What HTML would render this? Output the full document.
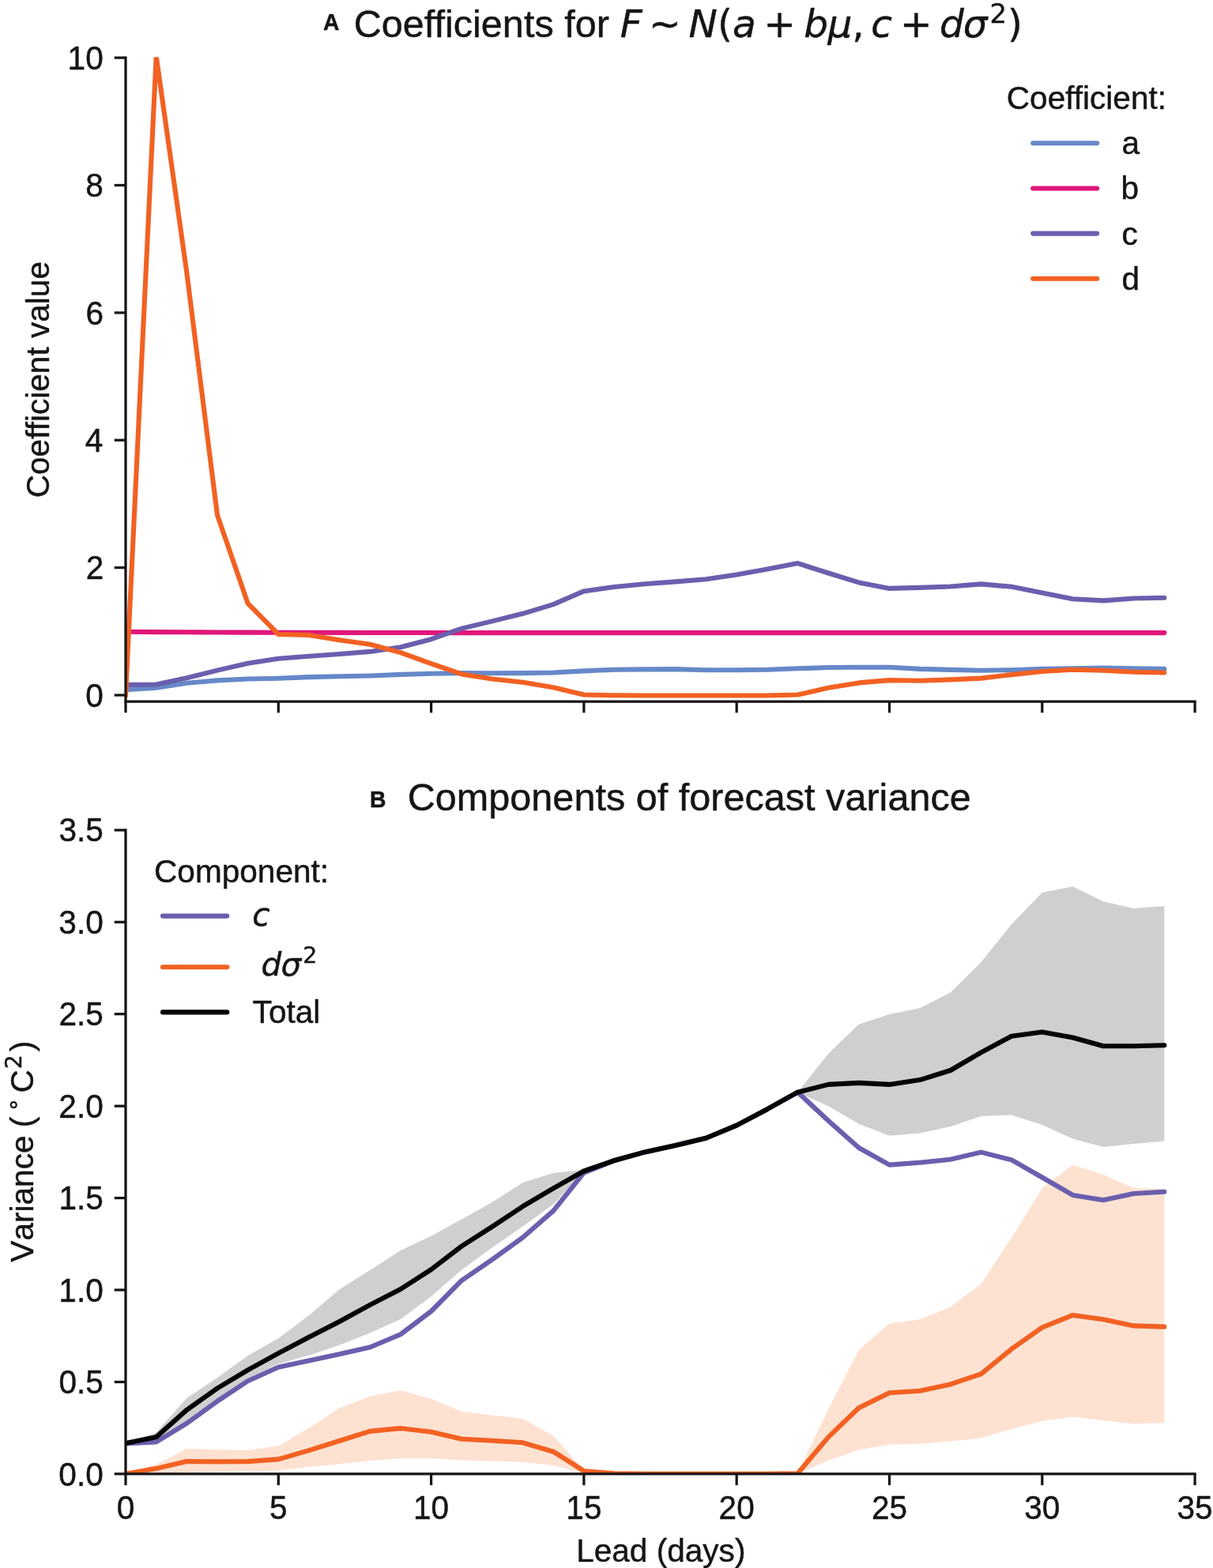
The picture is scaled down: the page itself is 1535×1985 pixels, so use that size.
<!DOCTYPE html>
<html lang="en"><head><meta charset="utf-8"><title>Forecast coefficients and variance components</title>
<style>
html,body{margin:0;padding:0;background:#fff;overflow:hidden;}
svg{display:block;width:1535px;height:1985px;}
text{font-family:"Liberation Sans",sans-serif;fill:#151515;stroke:#151515;stroke-width:0.45px;stroke-linejoin:round;}
.m{font-family:"DejaVu Sans",sans-serif;font-style:italic;}
.r{font-family:"DejaVu Sans",sans-serif;font-style:normal;}
.p{font-weight:bold;}
.ln{fill:none;stroke-width:6.1;stroke-linecap:round;stroke-linejoin:round;}
.ax{fill:none;stroke:#151515;stroke-width:3.25;stroke-linecap:butt;}
</style></head><body>
<svg width="1535" height="1985" viewBox="0 0 1535 1985">
<rect width="1535" height="1985" fill="#fff"/>
<defs><clipPath id="ca"><rect x="159.0" y="72.2" width="1370" height="812.3"/></clipPath>
<clipPath id="cb"><rect x="159.0" y="1040" width="1370" height="825.9"/></clipPath></defs>
<g id="panel-a">
<g clip-path="url(#ca)">
<polyline class="ln" stroke="#6688c8" points="159.0,873.2 197.7,870.7 236.3,864.7 275.0,861.4 313.6,859.5 352.3,858.7 391.0,857.1 429.6,856.3 468.3,855.5 506.9,853.9 545.6,852.7 584.3,852.1 622.9,852.3 661.6,852.1 700.2,851.5 738.9,849.4 777.6,847.7 816.2,847.4 854.9,847.1 893.5,848.2 932.2,848.2 970.9,847.8 1009.5,846.3 1048.2,845.0 1086.8,844.8 1125.5,844.8 1164.2,846.9 1202.8,847.9 1241.5,848.7 1280.1,848.2 1318.8,846.9 1357.5,846.3 1396.1,845.6 1434.8,846.3 1473.4,846.9"/>
<polyline class="ln" stroke="#e0177b" points="159.0,799.8 197.7,800.1 236.3,800.3 275.0,800.5 313.6,800.6 352.3,800.8 391.0,800.8 429.6,800.9 468.3,801.0 506.9,801.0 545.6,801.0 584.3,801.1 622.9,801.1 661.6,801.1 700.2,801.1 738.9,801.1 777.6,801.1 816.2,801.1 854.9,801.1 893.5,801.1 932.2,801.1 970.9,801.1 1009.5,801.1 1048.2,801.1 1086.8,801.1 1125.5,801.1 1164.2,801.1 1202.8,801.1 1241.5,801.1 1280.1,801.1 1318.8,801.1 1357.5,801.1 1396.1,801.1 1434.8,801.1 1473.4,801.1"/>
<polyline class="ln" stroke="#6a5fae" points="159.0,866.9 197.7,866.5 236.3,858.3 275.0,848.6 313.6,839.8 352.3,833.7 391.0,830.8 429.6,828.0 468.3,824.9 506.9,819.3 545.6,809.2 584.3,795.6 622.9,786.4 661.6,776.8 700.2,765.1 738.9,748.4 777.6,743.0 816.2,739.3 854.9,736.4 893.5,733.2 932.2,727.6 970.9,720.5 1009.5,713.1 1048.2,725.5 1086.8,737.4 1125.5,744.9 1164.2,743.9 1202.8,742.5 1241.5,739.4 1280.1,742.8 1318.8,750.4 1357.5,758.2 1396.1,760.4 1434.8,757.5 1473.4,756.7"/>
<polyline class="ln" stroke="#f26122" points="159.0,880.5 197.7,71.2 236.3,344.7 275.0,652.1 313.6,763.8 352.3,803.0 391.0,803.9 429.6,810.3 468.3,815.7 506.9,826.1 545.6,840.2 584.3,853.4 622.9,859.5 661.6,863.8 700.2,870.3 738.9,879.5 777.6,880.3 816.2,880.5 854.9,880.5 893.5,880.5 932.2,880.5 970.9,880.5 1009.5,879.5 1048.2,870.8 1086.8,864.4 1125.5,861.1 1164.2,861.7 1202.8,860.4 1241.5,858.6 1280.1,854.1 1318.8,850.0 1357.5,847.7 1396.1,848.7 1434.8,850.8 1473.4,851.5"/>
</g>
<path class="ax" d="M159.0,71.5V902.3"/>
<path class="ax" d="M157.4,888.0H1513.7"/>
<path class="ax" d="M352.3,888.0v14.3"/>
<path class="ax" d="M545.6,888.0v14.3"/>
<path class="ax" d="M738.9,888.0v14.3"/>
<path class="ax" d="M932.2,888.0v14.3"/>
<path class="ax" d="M1125.5,888.0v14.3"/>
<path class="ax" d="M1318.8,888.0v14.3"/>
<path class="ax" d="M1512.1,888.0v14.3"/>
<path class="ax" d="M159.0,880.0h-14.3"/>
<text transform="translate(130.79 894.64) scale(1 1.045)" style="font-size:40.6px" text-anchor="end">0</text>
<path class="ax" d="M159.0,718.6h-14.3"/>
<text transform="translate(131.29 733.26) scale(1 1.045)" style="font-size:40.6px" text-anchor="end">2</text>
<path class="ax" d="M159.0,557.2h-14.3"/>
<text transform="translate(130.42 571.88) scale(1 1.045)" style="font-size:40.6px" text-anchor="end">4</text>
<path class="ax" d="M159.0,395.9h-14.3"/>
<text transform="translate(131.04 410.50) scale(1 1.045)" style="font-size:40.6px" text-anchor="end">6</text>
<path class="ax" d="M159.0,234.5h-14.3"/>
<text transform="translate(130.92 249.12) scale(1 1.045)" style="font-size:40.6px" text-anchor="end">8</text>
<path class="ax" d="M159.0,73.1h-14.3"/>
<text transform="translate(130.76 87.74) scale(1 1.045)" style="font-size:40.6px" text-anchor="end">10</text>
<g transform="translate(61.8,628.2) rotate(-90)">
<text x="-2.12" y="0.00" style="font-size:40.6px">Coefficient value</text>
</g>
</g>
<g id="title-a">
<text class="p" transform="translate(409.05 38.40) scale(1 1.045)" style="font-size:28.4px">A</text>
<text x="447.70" y="47.30" style="font-size:48.6px">Coefficients for</text>
<text class="m" x="784.83" y="47.30" style="font-size:48.6px">F</text>
<text class="r" x="820.88" y="47.30" style="font-size:48.6px">∼</text>
<text class="m" x="871.62" y="47.30" style="font-size:48.6px">N</text>
<text class="r" x="907.88" y="47.30" style="font-size:48.6px">(</text>
<text class="m" x="927.00" y="47.30" style="font-size:48.6px">a</text>
<text class="r" x="966.17" y="47.30" style="font-size:48.6px">+</text>
<text class="m" x="1017.15" y="47.30" style="font-size:48.6px">b</text>
<text class="m" x="1047.42" y="47.30" style="font-size:48.6px">μ</text>
<text class="r" x="1078.25" y="47.30" style="font-size:48.6px">,</text>
<text class="m" x="1102.35" y="47.30" style="font-size:48.6px">c</text>
<text class="r" x="1139.08" y="47.30" style="font-size:48.6px">+</text>
<text class="m" x="1188.95" y="47.30" style="font-size:48.6px">d</text>
<text class="m" x="1218.83" y="47.30" style="font-size:48.6px">σ</text>
<text class="r" x="1252.50" y="28.50" style="font-size:34.019999999999996px">2</text>
<text class="r" x="1275.12" y="47.30" style="font-size:48.6px">)</text>
</g>
<g id="legend-a">
<text x="1273.78" y="137.70" style="font-size:40.6px">Coefficient:</text>
<path class="ln" stroke="#6688c8" d="M1307.2,181.3H1388.2"/>
<text x="1419.45" y="195.20" style="font-size:40.6px">a</text>
<path class="ln" stroke="#e0177b" d="M1307.2,238.5H1388.2"/>
<text x="1418.58" y="252.35" style="font-size:40.6px">b</text>
<path class="ln" stroke="#6a5fae" d="M1307.2,295.6H1388.2"/>
<text x="1419.45" y="309.50" style="font-size:40.6px">c</text>
<path class="ln" stroke="#f26122" d="M1307.2,352.8H1388.2"/>
<text x="1419.45" y="366.65" style="font-size:40.6px">d</text>
</g>
<g id="panel-b">
<g clip-path="url(#cb)">
<polygon fill="#cfcfcf" points="159.0,1827.0 197.7,1813.6 236.3,1769.9 275.0,1743.9 313.6,1716.2 352.3,1694.3 391.0,1665.2 429.6,1632.3 468.3,1607.9 506.9,1583.0 545.6,1564.8 584.3,1543.6 622.9,1522.0 661.6,1496.9 700.2,1484.9 738.9,1480.7 777.6,1469.0 816.2,1458.4 854.9,1450.0 893.5,1440.7 932.2,1424.6 970.9,1404.2 1009.5,1382.7 1048.2,1333.8 1086.8,1296.8 1125.5,1284.0 1164.2,1276.2 1202.8,1256.4 1241.5,1218.1 1280.1,1170.1 1318.8,1130.0 1357.5,1122.3 1396.1,1141.2 1434.8,1150.1 1473.4,1147.0 1473.4,1444.5 1434.8,1448.1 1396.1,1452.0 1357.5,1441.6 1318.8,1424.0 1280.1,1411.5 1241.5,1413.1 1202.8,1426.2 1164.2,1434.5 1125.5,1437.8 1086.8,1422.7 1048.2,1400.2 1009.5,1382.7 970.9,1404.2 932.2,1424.6 893.5,1440.7 854.9,1450.0 816.2,1458.4 777.6,1469.0 738.9,1484.0 700.2,1524.5 661.6,1552.6 622.9,1579.2 584.3,1607.6 545.6,1641.2 506.9,1670.0 468.3,1687.5 429.6,1702.7 391.0,1715.7 352.3,1726.6 313.6,1745.0 275.0,1771.1 236.3,1799.5 197.7,1824.4 159.0,1827.0"/>
<polygon fill="#fde2d2" points="159.0,1865.9 197.7,1853.9 236.3,1833.8 275.0,1835.3 313.6,1835.7 352.3,1830.5 391.0,1807.7 429.6,1782.5 468.3,1767.5 506.9,1760.2 545.6,1770.7 584.3,1787.0 622.9,1791.5 661.6,1796.1 700.2,1817.6 738.9,1861.7 777.6,1865.2 816.2,1865.9 854.9,1865.9 893.5,1865.9 932.2,1865.9 970.9,1865.9 1009.5,1864.7 1048.2,1784.2 1086.8,1709.0 1125.5,1675.4 1164.2,1670.3 1202.8,1654.5 1241.5,1625.6 1280.1,1566.9 1318.8,1504.1 1357.5,1474.8 1396.1,1487.1 1434.8,1504.1 1473.4,1505.1 1473.4,1801.6 1434.8,1802.4 1396.1,1798.2 1357.5,1793.8 1318.8,1799.1 1280.1,1809.1 1241.5,1820.4 1202.8,1824.7 1164.2,1827.8 1125.5,1828.8 1086.8,1835.6 1048.2,1848.7 1009.5,1865.9 970.9,1865.9 932.2,1865.9 893.5,1865.9 854.9,1865.9 816.2,1865.9 777.6,1865.9 738.9,1865.2 700.2,1855.1 661.6,1850.9 622.9,1849.7 584.3,1848.8 545.6,1846.3 506.9,1846.3 468.3,1849.2 429.6,1853.5 391.0,1857.1 352.3,1861.5 313.6,1862.6 275.0,1863.3 236.3,1864.0 197.7,1865.9 159.0,1865.9"/>
<polyline class="ln" stroke="#6a5fae" points="159.0,1827.5 197.7,1825.5 236.3,1801.9 275.0,1773.9 313.6,1748.3 352.3,1730.8 391.0,1722.5 429.6,1714.3 468.3,1705.5 506.9,1689.2 545.6,1660.0 584.3,1620.9 622.9,1594.5 661.6,1566.5 700.2,1532.9 738.9,1484.7 777.6,1469.2 816.2,1458.4 854.9,1450.0 893.5,1440.7 932.2,1424.6 970.9,1404.2 1009.5,1382.7 1048.2,1418.7 1086.8,1453.0 1125.5,1474.6 1164.2,1471.7 1202.8,1467.7 1241.5,1458.6 1280.1,1468.4 1318.8,1490.5 1357.5,1512.9 1396.1,1519.2 1434.8,1511.0 1473.4,1508.7"/>
<polyline class="ln" stroke="#f26122" points="159.0,1865.9 197.7,1859.1 236.3,1850.0 275.0,1850.4 313.6,1850.1 352.3,1847.4 391.0,1836.1 429.6,1824.0 468.3,1811.9 506.9,1808.1 545.6,1812.8 584.3,1821.7 622.9,1823.8 661.6,1826.3 700.2,1837.7 738.9,1862.2 777.6,1865.4 816.2,1865.9 854.9,1865.9 893.5,1865.9 932.2,1865.9 970.9,1865.9 1009.5,1865.2 1048.2,1819.4 1086.8,1782.3 1125.5,1763.3 1164.2,1760.8 1202.8,1752.4 1241.5,1739.3 1280.1,1707.8 1318.8,1680.5 1357.5,1664.9 1396.1,1670.3 1434.8,1678.4 1473.4,1679.6"/>
<polyline class="ln" stroke="#050505" points="159.0,1827.0 197.7,1819.2 236.3,1784.9 275.0,1757.5 313.6,1734.3 352.3,1713.1 391.0,1692.8 429.6,1673.0 468.3,1651.9 506.9,1632.0 545.6,1607.1 584.3,1577.5 622.9,1552.9 661.6,1527.2 700.2,1504.3 738.9,1482.5 777.6,1469.0 816.2,1458.4 854.9,1450.0 893.5,1440.7 932.2,1424.6 970.9,1404.2 1009.5,1382.7 1048.2,1372.9 1086.8,1370.9 1125.5,1372.9 1164.2,1367.1 1202.8,1355.0 1241.5,1332.4 1280.1,1311.7 1318.8,1306.5 1357.5,1313.5 1396.1,1324.2 1434.8,1324.2 1473.4,1323.3"/>
</g>
<path class="ax" d="M159.0,1049.2V1880.2"/>
<path class="ax" d="M144.7,1865.9H1513.7"/>
<path class="ax" d="M352.3,1865.9v14.3"/>
<path class="ax" d="M545.6,1865.9v14.3"/>
<path class="ax" d="M738.9,1865.9v14.3"/>
<path class="ax" d="M932.2,1865.9v14.3"/>
<path class="ax" d="M1125.5,1865.9v14.3"/>
<path class="ax" d="M1318.8,1865.9v14.3"/>
<path class="ax" d="M1512.1,1865.9v14.3"/>
<text transform="translate(159.00 1922.90) scale(1 1.045)" style="font-size:40.6px" text-anchor="middle">0</text>
<text transform="translate(352.30 1922.90) scale(1 1.045)" style="font-size:40.6px" text-anchor="middle">5</text>
<text transform="translate(545.60 1922.90) scale(1 1.045)" style="font-size:40.6px" text-anchor="middle">10</text>
<text transform="translate(738.90 1922.90) scale(1 1.045)" style="font-size:40.6px" text-anchor="middle">15</text>
<text transform="translate(932.20 1922.90) scale(1 1.045)" style="font-size:40.6px" text-anchor="middle">20</text>
<text transform="translate(1125.50 1922.90) scale(1 1.045)" style="font-size:40.6px" text-anchor="middle">25</text>
<text transform="translate(1318.80 1922.90) scale(1 1.045)" style="font-size:40.6px" text-anchor="middle">30</text>
<text transform="translate(1512.10 1922.90) scale(1 1.045)" style="font-size:40.6px" text-anchor="middle">35</text>
<path class="ax" d="M159.0,1749.5h-14.3"/>
<path class="ax" d="M159.0,1633.0h-14.3"/>
<path class="ax" d="M159.0,1516.6h-14.3"/>
<path class="ax" d="M159.0,1400.2h-14.3"/>
<path class="ax" d="M159.0,1283.7h-14.3"/>
<path class="ax" d="M159.0,1167.3h-14.3"/>
<path class="ax" d="M159.0,1050.9h-14.3"/>
<text transform="translate(130.80 1880.54) scale(1 1.045)" style="font-size:40.6px" text-anchor="end">0.0</text>
<text transform="translate(130.92 1764.10) scale(1 1.045)" style="font-size:40.6px" text-anchor="end">0.5</text>
<text transform="translate(130.80 1647.67) scale(1 1.045)" style="font-size:40.6px" text-anchor="end">1.0</text>
<text transform="translate(130.92 1531.23) scale(1 1.045)" style="font-size:40.6px" text-anchor="end">1.5</text>
<text transform="translate(130.80 1414.80) scale(1 1.045)" style="font-size:40.6px" text-anchor="end">2.0</text>
<text transform="translate(130.92 1298.36) scale(1 1.045)" style="font-size:40.6px" text-anchor="end">2.5</text>
<text transform="translate(130.80 1181.93) scale(1 1.045)" style="font-size:40.6px" text-anchor="end">3.0</text>
<text transform="translate(130.92 1065.49) scale(1 1.045)" style="font-size:40.6px" text-anchor="end">3.5</text>
<text x="836.30" y="1977.00" style="font-size:40.6px" text-anchor="middle">Lead (days)</text>
<g transform="translate(42.4,1597.7) rotate(-90)" style="font-kerning:none">
<text x="0.05" y="0.00" style="font-size:40.6px">Variance</text>
<text x="170.40" y="0.00" style="font-size:40.6px">(</text>
<text class="r" x="190.30" y="-16.00" style="font-size:28.419999999999998px">∘</text>
<text x="214.18" y="0.00" style="font-size:40.6px">C</text>
<text class="r" x="244.57" y="-15.40" style="font-size:28.419999999999998px">2</text>
<text x="266.35" y="0.00" style="font-size:40.6px">)</text>
</g>
</g>
<g id="title-b">
<text class="p" transform="translate(467.93 1021.70) scale(1 1.045)" style="font-size:28.4px">B</text>
<text x="515.70" y="1026.00" style="font-size:48.6px">Components of forecast variance</text>
</g>
<g id="legend-b">
<text x="195.07" y="1116.70" style="font-size:40.6px">Component:</text>
<path class="ln" stroke="#6a5fae" d="M206,1159.6H287.3"/>
<path class="ln" stroke="#f26122" d="M206,1224.3H287.3"/>
<path class="ln" stroke="#050505" d="M206,1281.4H287.3"/>
<text class="m" x="319.32" y="1172.10" style="font-size:40.6px">c</text>
<text class="m" x="330.43" y="1234.50" style="font-size:40.6px">d</text>
<text class="m" x="355.40" y="1234.50" style="font-size:40.6px">σ</text>
<text class="r" x="383.27" y="1218.90" style="font-size:28.419999999999998px">2</text>
<text x="319.62" y="1295.10" style="font-size:40.6px">Total</text>
</g>
</svg>
</body></html>
